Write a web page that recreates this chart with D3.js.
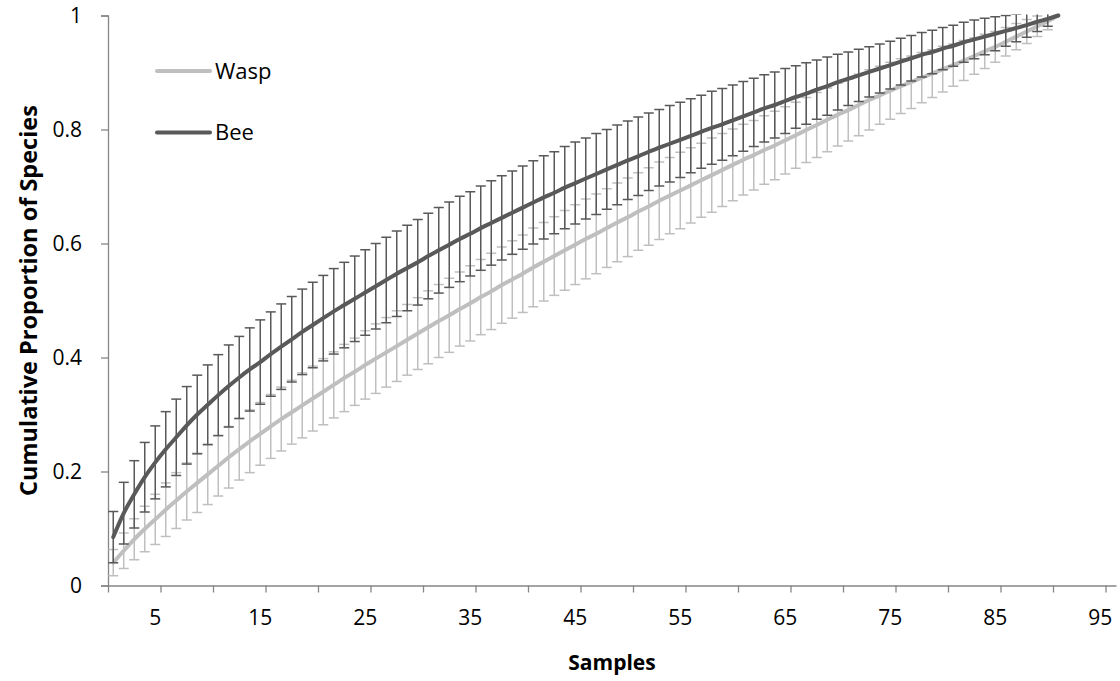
<!DOCTYPE html>
<html>
<head>
<meta charset="utf-8">
<script src="https://cdn.jsdelivr.net/npm/d3@7/dist/d3.min.js"></script>
<style>
  body { margin: 0; background: #fff; }
  text { font-family: "Open Sans", "Noto Sans", sans-serif; }
</style>
</head>
<body>
<div id="chart-area"></div>
<script>
// samples 1..91 on a category axis with 96 slots
var samples = d3.range(1, 92);
var slots = d3.range(1, 97);
var xLabels = [5, 15, 25, 35, 45, 55, 65, 75, 85, 95];
var xTickBounds = [0, 5, 10, 15, 20, 25, 30, 35, 40, 45, 50, 55, 60, 65, 70, 75, 80, 85, 90, 95];
var yTicks = [0, 0.2, 0.4, 0.6, 0.8, 1];
var yTickLabels = ["0", "0.2", "0.4", "0.6", "0.8", "1"];

var waspMean = [
  0.040, 0.061, 0.081, 0.099, 0.116, 0.133, 0.149, 0.165, 0.180, 0.195,
  0.210, 0.225, 0.239, 0.253, 0.266, 0.279, 0.292, 0.304, 0.316, 0.328,
  0.340, 0.352, 0.364, 0.375, 0.387, 0.398, 0.409, 0.420, 0.431, 0.442,
  0.453, 0.464, 0.474, 0.485, 0.495, 0.506, 0.516, 0.527, 0.537, 0.547,
  0.558, 0.568, 0.578, 0.588, 0.598, 0.608, 0.617, 0.627, 0.637, 0.646,
  0.656, 0.665, 0.675, 0.684, 0.693, 0.702, 0.711, 0.720, 0.729, 0.738,
  0.747, 0.755, 0.764, 0.772, 0.781, 0.790, 0.799, 0.808, 0.817, 0.826,
  0.834, 0.843, 0.852, 0.860, 0.868, 0.876, 0.883, 0.891, 0.898, 0.906,
  0.913, 0.921, 0.929, 0.937, 0.945, 0.954, 0.963, 0.972, 0.981, 0.990,
  1.000
];
var waspErr = [
  0.023, 0.031, 0.036, 0.040, 0.044, 0.047, 0.049, 0.050, 0.052, 0.053,
  0.053, 0.054, 0.054, 0.055, 0.055, 0.056, 0.056, 0.056, 0.057, 0.057,
  0.058, 0.058, 0.059, 0.059, 0.060, 0.061, 0.061, 0.062, 0.062, 0.063,
  0.064, 0.064, 0.065, 0.065, 0.066, 0.066, 0.067, 0.067, 0.068, 0.068,
  0.069, 0.069, 0.069, 0.070, 0.070, 0.070, 0.070, 0.069, 0.069, 0.069,
  0.068, 0.068, 0.068, 0.067, 0.067, 0.066, 0.065, 0.065, 0.064, 0.063,
  0.062, 0.061, 0.060, 0.060, 0.059, 0.058, 0.057, 0.057, 0.056, 0.055,
  0.054, 0.054, 0.053, 0.051, 0.050, 0.048, 0.046, 0.044, 0.042, 0.040,
  0.037, 0.035, 0.032, 0.030, 0.027, 0.025, 0.023, 0.021, 0.018, 0.015,
  0.000
];
var beeMean = [
  0.085, 0.127, 0.160, 0.190, 0.216, 0.239, 0.260, 0.281, 0.300, 0.317,
  0.334, 0.350, 0.365, 0.379, 0.392, 0.406, 0.419, 0.432, 0.445, 0.457,
  0.469, 0.481, 0.492, 0.503, 0.514, 0.525, 0.536, 0.547, 0.557, 0.567,
  0.578, 0.588, 0.598, 0.608, 0.617, 0.627, 0.636, 0.645, 0.654, 0.663,
  0.672, 0.681, 0.689, 0.698, 0.706, 0.714, 0.722, 0.730, 0.738, 0.746,
  0.753, 0.761, 0.768, 0.775, 0.782, 0.789, 0.796, 0.803, 0.809, 0.816,
  0.823, 0.830, 0.837, 0.843, 0.850, 0.857, 0.863, 0.870, 0.876, 0.883,
  0.889, 0.895, 0.901, 0.907, 0.913, 0.919, 0.925, 0.931, 0.936, 0.942,
  0.947, 0.953, 0.958, 0.963, 0.968, 0.973, 0.978, 0.983, 0.989, 0.994,
  1.000
];
var beeErr = [
  0.045, 0.054, 0.059, 0.061, 0.064, 0.066, 0.067, 0.068, 0.069, 0.070,
  0.071, 0.072, 0.072, 0.073, 0.074, 0.074, 0.075, 0.075, 0.075, 0.075,
  0.075, 0.075, 0.075, 0.075, 0.075, 0.075, 0.075, 0.075, 0.075, 0.075,
  0.075, 0.075, 0.075, 0.075, 0.074, 0.074, 0.074, 0.074, 0.073, 0.073,
  0.073, 0.073, 0.072, 0.072, 0.072, 0.071, 0.071, 0.070, 0.070, 0.069,
  0.069, 0.068, 0.067, 0.067, 0.066, 0.065, 0.064, 0.064, 0.063, 0.062,
  0.061, 0.060, 0.059, 0.058, 0.057, 0.055, 0.054, 0.052, 0.051, 0.049,
  0.047, 0.046, 0.044, 0.043, 0.042, 0.041, 0.040, 0.039, 0.038, 0.037,
  0.036, 0.035, 0.034, 0.032, 0.030, 0.027, 0.024, 0.021, 0.017, 0.013,
  0.000
];

var seriesNames = ["Wasp", "Bee"];
var seriesColors = ["#bfbfbf", "#595959"];

var width = 1120, height = 681;
var plot = { left: 108, right: 1116, top: 15.5, bottom: 585.5 };

var svg = d3.select("#chart-area")
  .append("svg")
    .attr("width", width)
    .attr("height", height);

var x = d3.scaleBand()
  .domain(slots)
  .range([plot.left, plot.right])
  .padding(0);

// boundaries between categories, for the tick marks
var xb = d3.scaleLinear()
  .domain([0, slots.length])
  .range([plot.left, plot.right]);

var y = d3.scaleLinear()
  .domain([0, 1])
  .range([plot.bottom, plot.top]);

var axisColor = "#868686";

// Y axis
var yAxis = svg.append("g")
  .attr("transform", "translate(" + plot.left + ",0)")
  .call(d3.axisLeft(y)
    .tickValues(yTicks)
    .tickSize(7)
    .tickPadding(19)
    .tickFormat(function(d, i) { return yTickLabels[i]; }));
yAxis.select(".domain").attr("stroke", axisColor).attr("stroke-width", 1.3);
yAxis.selectAll(".tick line").attr("stroke", axisColor).attr("stroke-width", 1.3);
yAxis.selectAll("text").attr("font-size", "21px").attr("fill", "#000")
  .attr("font-family", "'Open Sans', sans-serif");

// X axis: tick marks on boundaries
var xAxis = svg.append("g")
  .attr("transform", "translate(0," + plot.bottom + ")")
  .call(d3.axisBottom(xb)
    .tickValues(xTickBounds)
    .tickSize(7)
    .tickSizeOuter(0)
    .tickFormat(""));
xAxis.select(".domain").attr("stroke", axisColor).attr("stroke-width", 1.3);
xAxis.selectAll(".tick line").attr("stroke", axisColor).attr("stroke-width", 1.3);

// X axis: labels centred on categories
var xLab = svg.append("g")
  .attr("transform", "translate(0," + plot.bottom + ")")
  .call(d3.axisBottom(x)
    .tickValues(xLabels)
    .tickSize(0)
    .tickPadding(25));
xLab.select(".domain").remove();
xLab.selectAll("text").attr("font-size", "21px").attr("fill", "#000")
  .attr("font-family", "'Open Sans', sans-serif");

// clip for error bars
svg.append("clipPath").attr("id", "plot-clip")
  .append("rect")
    .attr("x", plot.left)
    .attr("y", plot.top - 1)
    .attr("width", plot.right - plot.left)
    .attr("height", plot.bottom - plot.top + 1);

var series = [
  { name: seriesNames[0], color: seriesColors[0], mean: waspMean, err: waspErr },
  { name: seriesNames[1], color: seriesColors[1], mean: beeMean, err: beeErr }
];

var cx = function(n) { return x(n) + x.bandwidth() / 2; };
var capHalf = 5;

var line = d3.line()
  .x(function(d) { return cx(d.n); })
  .y(function(d) { return y(d.v); })
  .curve(d3.curveMonotoneX);

series.forEach(function(s) {
  var pts = samples.map(function(n, i) {
    return { n: n, v: s.mean[i], e: s.err[i] };
  });

  var bars = svg.append("g")
    .attr("clip-path", "url(#plot-clip)")
    .attr("stroke", s.color)
    .attr("stroke-width", 1.5)
    .attr("fill", "none");

  var withErr = pts.filter(function(d) { return d.e > 0; });

  bars.selectAll(".stem")
    .data(withErr)
    .enter().append("line")
      .attr("class", "stem")
      .attr("x1", function(d) { return cx(d.n); })
      .attr("x2", function(d) { return cx(d.n); })
      .attr("y1", function(d) { return y(d.v + d.e); })
      .attr("y2", function(d) { return y(d.v - d.e); });

  bars.selectAll(".cap-top")
    .data(withErr)
    .enter().append("line")
      .attr("class", "cap-top")
      .attr("x1", function(d) { return cx(d.n) - capHalf; })
      .attr("x2", function(d) { return cx(d.n) + capHalf; })
      .attr("y1", function(d) { return y(d.v + d.e); })
      .attr("y2", function(d) { return y(d.v + d.e); });

  bars.selectAll(".cap-bot")
    .data(withErr)
    .enter().append("line")
      .attr("class", "cap-bot")
      .attr("x1", function(d) { return cx(d.n) - capHalf; })
      .attr("x2", function(d) { return cx(d.n) + capHalf; })
      .attr("y1", function(d) { return y(d.v - d.e); })
      .attr("y2", function(d) { return y(d.v - d.e); });

  svg.append("path")
    .datum(pts)
    .attr("fill", "none")
    .attr("stroke", s.color)
    .attr("stroke-width", 4)
    .attr("stroke-linecap", "round")
    .attr("stroke-linejoin", "round")
    .attr("d", line);
});

// legend
var legend = svg.append("g");
series.forEach(function(s, i) {
  var ly = 71 + i * 61.5;
  legend.append("line")
    .attr("x1", 157).attr("x2", 210)
    .attr("y1", ly).attr("y2", ly)
    .attr("stroke", s.color)
    .attr("stroke-width", 4)
    .attr("stroke-linecap", "round");
  legend.append("text")
    .attr("x", 215)
    .attr("y", ly)
    .attr("dy", "0.35em")
    .attr("font-size", "22px")
    .attr("fill", "#000")
    .text(s.name);
});

// axis titles
svg.append("text")
  .attr("x", (plot.left + plot.right) / 2)
  .attr("y", 663)
  .attr("dy", "0.35em")
  .attr("text-anchor", "middle")
  .attr("font-size", "21px")
  .attr("font-weight", "bold")
  .text("Samples");

svg.append("text")
  .attr("transform", "translate(29," + ((plot.top + plot.bottom) / 2) + ") rotate(-90)")
  .attr("dy", "0.35em")
  .attr("text-anchor", "middle")
  .attr("font-size", "23.5px")
  .attr("font-weight", "bold")
  .text("Cumulative Proportion of Species");
</script>
</body>
</html>
